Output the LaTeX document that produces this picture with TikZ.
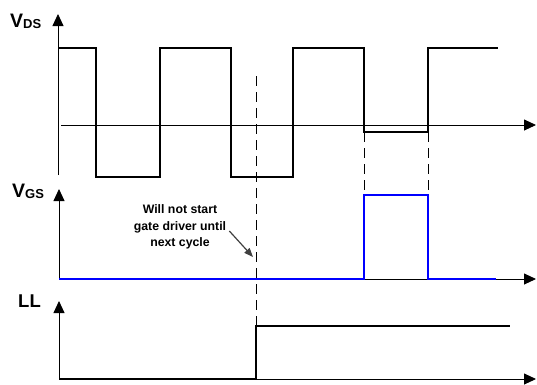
\documentclass[tikz,border=0pt]{standalone}
\usepackage{fontspec}
\setmainfont{Liberation Sans}
\usetikzlibrary{arrows.meta,positioning}

\newcommand{\siglab}[2]{{\fontsize{19.5}{19.5}\selectfont #1}\raisebox{-1.5pt}{\fontsize{13}{13}\selectfont #2}}

\begin{document}
\begin{tikzpicture}[x=1pt,y=-1pt,
    axis/.style={line width=0.9pt,-{Triangle[length=12pt,width=11pt]}},
    wave/.style={line width=1.8pt},
    gate/.style={line width=1.8pt,draw=blue},
    guide/.style={line width=1pt,dash pattern=on 10pt off 6pt},
    pointer/.style={line width=1.2pt,draw=black!75,-{Triangle[length=9pt,width=7pt]}},
    note/.style={font=\bfseries\fontsize{12.3}{16.5}\selectfont,align=center,inner sep=0pt},
    sig/.style={font=\bfseries,inner sep=0pt,anchor=base west}]
    \useasboundingbox (0,0) rectangle (537,384);
    % axes
    \coordinate (ds0) at (58,175);
    \coordinate (dsy) at (58,14);
    \coordinate (dsl) at (61,125);
    \coordinate (dsr) at (536,125);
    \coordinate (gs0) at (59,279);
    \coordinate (gsy) at (59,189);
    \coordinate (gsr) at (536,279);
    \coordinate (ll0) at (59,379);
    \coordinate (lly) at (59,301);
    \coordinate (llr) at (536,379);
    \draw[axis] (ds0) -- (dsy);
    \draw[axis] (dsl) -- (dsr);
    \draw[axis] (gs0) -- (gsy);
    \draw[axis] (gs0) -- (gsr);
    \draw[axis] (ll0) -- (lly);
    \draw[axis] (ll0) -- (llr);
    % labels
    \node[sig] (vds) at (10,27) {\siglab{V}{DS}};
    \node[sig] (vgs) at (12,197) {\siglab{V}{GS}};
    \node[sig] (ll) at (18,307) {\fontsize{18.5}{18.5}\selectfont LL};
    % drain voltage
    \draw[wave] (59,48) -| (96,177) -| (160,48) -| (231,177) -| (293,48)
        -| (364,132) -| (428,48) -- (498,48);
    % gate drive
    \draw[gate] (gs0) -| (364,195) -| (428,279) -- (496,279);
    % LL signal
    \draw[wave,line width=1.5pt] (ll0) -| (256,326) -- (510,326);
    % guides
    \draw[guide] (256,76) -- (256,326);
    \draw[guide] (364,132) -- (364,195);
    \draw[guide] (428,132) -- (428,195);
    % note
    \node[note] (skip) at (180,227) {Will not start\\gate driver until\\next cycle};
    \coordinate (skiptip) at (253,257);
    \draw[pointer] ([shift={(3,4)}]skip.east) -- (skiptip);
\end{tikzpicture}
\end{document}
